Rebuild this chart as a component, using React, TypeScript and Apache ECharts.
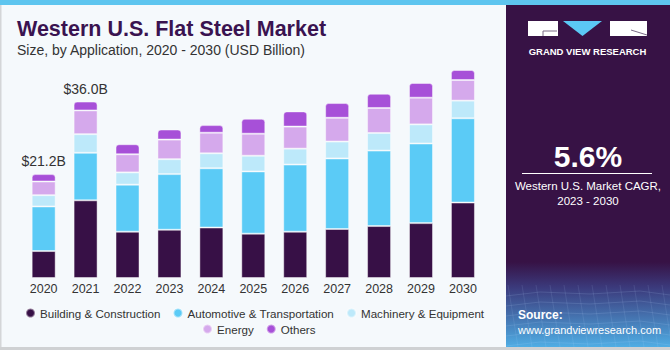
import React, { useEffect, useRef } from "react";
import * as echarts from "echarts";

const years = ["2020", "2021", "2022", "2023", "2024", "2025", "2026", "2027", "2028", "2029", "2030"];
const building = [5.5, 15.85, 9.45, 9.85, 10.3, 9.05, 9.45, 10.0, 10.6, 11.2, 15.4];
const automotive = [9.1, 9.7, 9.6, 11.35, 12.1, 12.7, 13.7, 14.4, 15.4, 16.25, 17.2];
const machinery = [2.3, 3.8, 2.5, 3.05, 3.05, 3.2, 3.25, 3.45, 3.6, 3.9, 3.6];
const energy = [2.8, 4.85, 3.7, 4.0, 4.2, 4.5, 4.5, 4.85, 5.1, 5.45, 4.2];
const others = [1.5, 1.8, 2.05, 2.05, 1.55, 3.05, 3.1, 3.0, 2.9, 3.0, 2.05];
const totalLabels = ["$21.2B", "$36.0B", "", "", "", "", "", "", "", "", ""];

const seriesNames = [
  "Building & Construction",
  "Automotive & Transportation",
  "Machinery & Equipment",
  "Energy",
  "Others",
];
const seriesColors = ["#371046", "#5bcbf6", "#bde9fa", "#d5a9ec", "#a750d8"];
const seriesValues = [building, automotive, machinery, energy, others];

const FONT = '"Liberation Sans", Arial, sans-serif';

export default function App() {
  const ref = useRef<HTMLDivElement>(null);
  useEffect(() => {
    if (!ref.current) return;
    const chart = echarts.init(ref.current, null, { renderer: "svg" });
    const series = seriesValues.map((vals, i) => {
      const isTop = i === seriesValues.length - 1;
      return {
        name: seriesNames[i],
        type: "bar",
        stack: "total",
        barWidth: 24,
        itemStyle: {
          color: seriesColors[i],
          borderColor: "rgba(255,255,255,0.45)",
          borderWidth: 1,
          borderRadius: isTop ? [3, 3, 0, 0] : 0,
        },
        data: isTop
          ? vals.map((v, k) => ({
              value: v,
              label: {
                show: totalLabels[k] !== "",
                position: "top",
                distance: 6,
                formatter: totalLabels[k],
                fontSize: 14,
                color: "#333",
                fontFamily: FONT,
              },
            }))
          : vals,
      };
    });

    const panelX = 506;
    const panelCx = (panelX + 670) / 2;

    const mesh: any[] = [];
    for (let k = 0; k < 6; k++) {
      const y = 292 + k * 10;
      mesh.push({
        type: "polyline",
        shape: { points: [[panelX, y + 4], [540, y], [590, y + 2], [640, y - 1], [670, y + 3]] },
        style: { stroke: "rgba(190,220,255,0.18)", lineWidth: 0.8, fill: "none" },
        silent: true,
      });
    }
    for (let k = 0; k < 12; k++) {
      const x = panelX + 8 + k * 14;
      mesh.push({
        type: "line",
        shape: { x1: x - 6, y1: 285, x2: x + 4, y2: 347 },
        style: { stroke: "rgba(190,220,255,0.14)", lineWidth: 0.8 },
        silent: true,
      });
    }

    const legendText = { fontSize: 11.6, color: "#333", fontFamily: FONT };

    chart.setOption({
      animation: false,
      backgroundColor: "#f5f9fc",
      textStyle: { fontFamily: FONT },
      grid: { left: 22.7, right: 186.1, top: 62.4, bottom: 72 },
      xAxis: {
        type: "category",
        data: years,
        axisLine: { show: false },
        axisTick: { show: false },
        axisLabel: { fontSize: 12.5, color: "#333", margin: 4, fontFamily: FONT },
      },
      yAxis: { type: "value", min: 0, max: 44, show: false },
      legend: [
        {
          data: seriesNames.slice(0, 3),
          left: 20,
          top: 302,
          icon: "circle",
          itemWidth: 9,
          itemHeight: 9,
          itemGap: 12,
          textStyle: legendText,
        },
        {
          data: seriesNames.slice(3),
          left: 197,
          top: 318,
          icon: "circle",
          itemWidth: 9,
          itemHeight: 9,
          itemGap: 12,
          textStyle: legendText,
        },
      ],
      series,
      graphic: [
        { type: "rect", shape: { x: 0, y: 0, width: 670, height: 5 }, style: { fill: "#5ec5ef" }, silent: true },
        { type: "rect", shape: { x: 0, y: 5, width: 1.5, height: 345 }, style: { fill: "#d4d6d8" }, silent: true },
        { type: "rect", shape: { x: 0, y: 347, width: 670, height: 3 }, style: { fill: "#cfd1d3" }, silent: true },
        { type: "rect", shape: { x: panelX, y: 5, width: 164, height: 342 }, style: { fill: "#371245" }, silent: true },
        {
          type: "rect",
          shape: { x: panelX, y: 262, width: 164, height: 85 },
          style: {
            fill: new echarts.graphic.LinearGradient(0, 0, 0, 1, [
              { offset: 0, color: "#371245" },
              { offset: 0.3, color: "#3b3a7c" },
              { offset: 1, color: "#4fade4" },
            ]),
          },
          silent: true,
        },
        ...mesh,
        // logo
        { type: "rect", shape: { x: 528, y: 21, width: 30, height: 15 }, style: { fill: "#ffffff" }, silent: true },
        { type: "polyline", shape: { points: [[557, 31], [543, 31], [543, 36]] }, style: { stroke: "#7a6a86", lineWidth: 1, fill: "none" }, silent: true },
        { type: "polygon", shape: { points: [[563, 21], [602, 21], [582.5, 36]] }, style: { fill: "#5bc8f5" }, silent: true },
        { type: "rect", shape: { x: 610, y: 21, width: 37, height: 15 }, style: { fill: "#ffffff" }, silent: true },
        { type: "line", shape: { x1: 631, y1: 30, x2: 647, y2: 35 }, style: { stroke: "#7a6a86", lineWidth: 1 }, silent: true },
        {
          type: "text",
          style: { text: "GRAND VIEW RESEARCH", x: 587.5, y: 51, textAlign: "center", textVerticalAlign: "middle", fill: "#ffffff", font: `bold 9.5px ${FONT}` },
          silent: true,
        },
        {
          type: "text",
          style: { text: "5.6%", x: panelCx, y: 156, textAlign: "center", textVerticalAlign: "middle", fill: "#ffffff", font: `bold 30px ${FONT}` },
          silent: true,
        },
        { type: "line", shape: { x1: 522, y1: 173.5, x2: 652, y2: 173.5 }, style: { stroke: "#ffffff", lineWidth: 1 }, silent: true },
        {
          type: "text",
          style: { text: "Western U.S. Market CAGR,", x: panelCx, y: 186, textAlign: "center", textVerticalAlign: "middle", fill: "#ffffff", font: `11.5px ${FONT}` },
          silent: true,
        },
        {
          type: "text",
          style: { text: "2023 - 2030", x: panelCx, y: 201, textAlign: "center", textVerticalAlign: "middle", fill: "#ffffff", font: `11.5px ${FONT}` },
          silent: true,
        },
        {
          type: "text",
          style: { text: "Source:", x: 518, y: 315, textVerticalAlign: "middle", fill: "#ffffff", font: `bold 12px ${FONT}` },
          silent: true,
        },
        {
          type: "text",
          style: { text: "www.grandviewresearch.com", x: 518, y: 329.5, textVerticalAlign: "middle", fill: "#ffffff", font: `11px ${FONT}` },
          silent: true,
        },
        // titles
        {
          type: "text",
          style: { text: "Western U.S. Flat Steel Market", x: 17, y: 29, textVerticalAlign: "middle", fill: "#3a1350", font: `bold 21.5px ${FONT}` },
          silent: true,
        },
        {
          type: "text",
          style: { text: "Size, by Application, 2020 - 2030 (USD Billion)", x: 17, y: 49.5, textVerticalAlign: "middle", fill: "#333333", font: `14px ${FONT}` },
          silent: true,
        },
      ],
    });
    return () => chart.dispose();
  }, []);
  return <div ref={ref} style={{ position: "fixed", left: 0, top: 0, width: 670, height: 350 }} />;
}
